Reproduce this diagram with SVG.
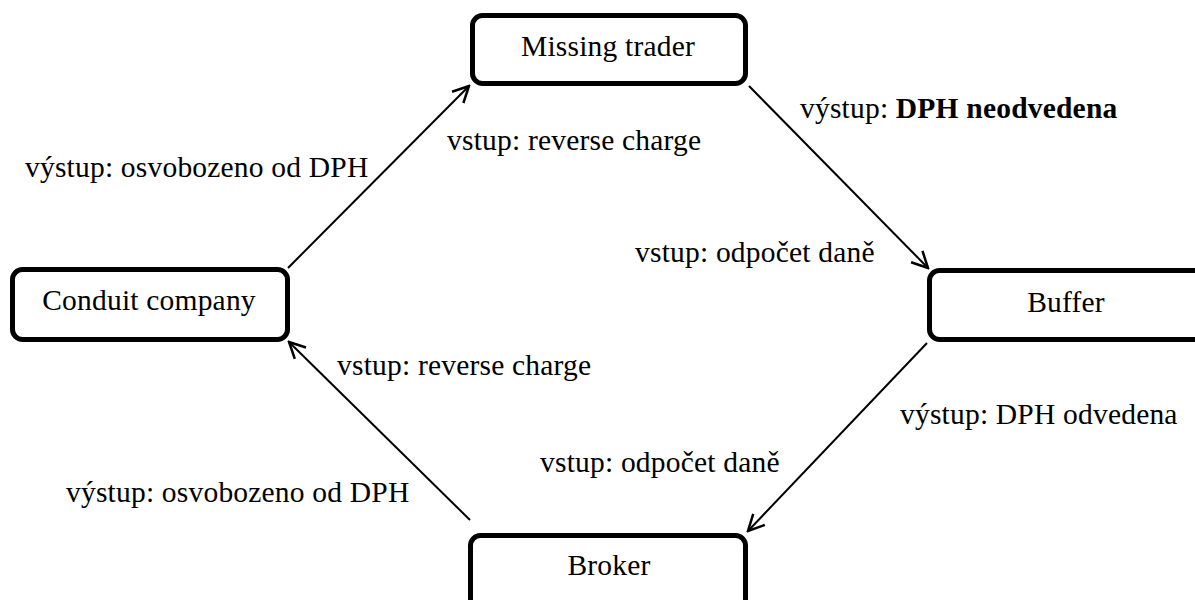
<svg xmlns="http://www.w3.org/2000/svg" width="1195" height="600" viewBox="0 0 1195 600">
<style>
.box{fill:#fff;stroke:#000;stroke-width:5}
.t{font-family:"Liberation Serif","Times New Roman",serif;font-size:29.5px;letter-spacing:0.2px;fill:#000}
.c{text-anchor:middle}
.b{font-weight:bold}
.e{stroke:#000;stroke-width:2;fill:none}
</style>
<defs>
<marker id="ah" viewBox="0 0 20 20" refX="18" refY="10" markerWidth="20" markerHeight="20" markerUnits="userSpaceOnUse" orient="auto">
<path d="M2,2 L18,10 L2,18" fill="none" stroke="#000" stroke-width="2.5"/>
</marker>
</defs>
<rect width="1195" height="600" fill="#fff"/>
<g id="connectors">
<line class="e" x1="288" y1="268" x2="469" y2="86" marker-end="url(#ah)"/>
<line class="e" x1="749" y1="86" x2="928" y2="268" marker-end="url(#ah)"/>
<line class="e" x1="927" y1="343" x2="748" y2="531" marker-end="url(#ah)"/>
<line class="e" x1="470" y1="520" x2="289" y2="342" marker-end="url(#ah)"/>
</g>
<g id="missing-trader">
<rect class="box" x="472.5" y="15.5" width="273" height="68" rx="10"/>
<text class="t c" x="608" y="56">Missing trader</text>
</g>
<g id="conduit-company">
<rect class="box" x="12.5" y="269.5" width="275" height="70" rx="10"/>
<text class="t c" x="149" y="310">Conduit company</text>
</g>
<g id="buffer">
<rect class="box" x="929.5" y="270.5" width="280" height="69" rx="10"/>
<text class="t c" x="1066" y="312">Buffer</text>
</g>
<g id="broker">
<rect class="box" x="470.5" y="535.5" width="275" height="80" rx="10"/>
<text class="t c" x="609" y="575">Broker</text>
</g>
<g id="labels">
<text class="t" x="25" y="177">výstup: osvobozeno od DPH</text>
<text class="t" x="447" y="150">vstup: reverse charge</text>
<text class="t" x="800" y="118">výstup: <tspan class="b">DPH neodvedena</tspan></text>
<text class="t" x="635" y="262">vstup: odpočet daně</text>
<text class="t" x="337" y="375">vstup: reverse charge</text>
<text class="t" x="900" y="424">výstup: DPH odvedena</text>
<text class="t" x="540" y="472">vstup: odpočet daně</text>
<text class="t" x="66" y="502">výstup: osvobozeno od DPH</text>
</g>
</svg>
